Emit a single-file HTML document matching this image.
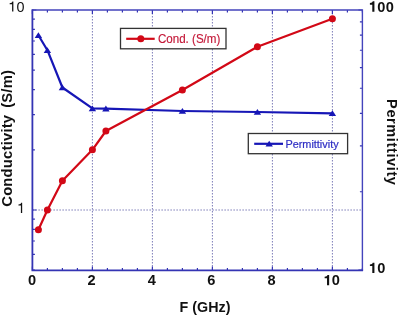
<!DOCTYPE html>
<html><head><meta charset="utf-8"><style>
html,body{margin:0;padding:0;background:#fff;}
svg{display:block;font-family:"Liberation Sans",sans-serif;will-change:transform;filter:blur(0.35px);}
</style></head><body>
<svg width="400" height="317" viewBox="0 0 400 317">
<rect width="400" height="317" fill="#fff"/>
<line x1="92.4" y1="10" x2="92.4" y2="270.4" stroke="#7c7cb8" stroke-width="1" stroke-dasharray="1.5 1.5"/>
<line x1="152.4" y1="10" x2="152.4" y2="270.4" stroke="#7c7cb8" stroke-width="1" stroke-dasharray="1.5 1.5"/>
<line x1="212.4" y1="10" x2="212.4" y2="270.4" stroke="#7c7cb8" stroke-width="1" stroke-dasharray="1.5 1.5"/>
<line x1="272.4" y1="10" x2="272.4" y2="270.4" stroke="#7c7cb8" stroke-width="1" stroke-dasharray="1.5 1.5"/>
<line x1="332.4" y1="10" x2="332.4" y2="270.4" stroke="#7c7cb8" stroke-width="1" stroke-dasharray="1.5 1.5"/>
<line x1="32.4" y1="210" x2="362.4" y2="210" stroke="#7c7cb8" stroke-width="1" stroke-dasharray="1.5 1.5"/>
<path d="M32.4 270.4v-4M32.4 10v4M47.4 270.4v-2.5M47.4 10v2.5M62.4 270.4v-2.5M62.4 10v2.5M77.4 270.4v-2.5M77.4 10v2.5M92.4 270.4v-4M92.4 10v4M107.4 270.4v-2.5M107.4 10v2.5M122.4 270.4v-2.5M122.4 10v2.5M137.4 270.4v-2.5M137.4 10v2.5M152.4 270.4v-4M152.4 10v4M167.4 270.4v-2.5M167.4 10v2.5M182.4 270.4v-2.5M182.4 10v2.5M197.4 270.4v-2.5M197.4 10v2.5M212.4 270.4v-4M212.4 10v4M227.4 270.4v-2.5M227.4 10v2.5M242.4 270.4v-2.5M242.4 10v2.5M257.4 270.4v-2.5M257.4 10v2.5M272.4 270.4v-4M272.4 10v4M287.4 270.4v-2.5M287.4 10v2.5M302.4 270.4v-2.5M302.4 10v2.5M317.4 270.4v-2.5M317.4 10v2.5M332.4 270.4v-4M332.4 10v4M347.4 270.4v-2.5M347.4 10v2.5M362.4 270.4v-2.5M362.4 10v2.5M32.4 270.20599913279625h2.5M32.4 254.36974992327129h2.5M32.4 240.98039199714864h2.5M32.4 229.38200260161128h2.5M32.4 219.15149811213502h2.5M32.4 210.0h4M32.4 149.79400086720375h2.5M32.4 114.57574905606751h2.5M32.4 89.58800173440753h2.5M32.4 70.20599913279622h2.5M32.4 54.369749923271286h2.5M32.4 40.980391997148644h2.5M32.4 29.382002601611305h2.5M32.4 19.151498112135016h2.5M32.4 10.0h4M362.4 270.0h-4M362.4 191.73220112736487h-2.5M362.4 145.94847377288778h-2.5M362.4 113.46440225472975h-2.5M362.4 88.26779887263513h-2.5M362.4 67.68067490025265h-2.5M362.4 50.2745095962932h-2.5M362.4 35.19660338209468h-2.5M362.4 21.89694754577556h-2.5M362.4 10.0h-4" stroke="#3434b4" stroke-width="1.2" fill="none"/>
<path d="M32.4 10H362.4V270.4" fill="none" stroke="#4444bc" stroke-width="1.4"/>
<path d="M32.4 9.3V270.4H363.09999999999997" fill="none" stroke="#3434b4" stroke-width="1.8"/>
<polyline points="38.4,35.2 47.4,50.2 62.4,87.5 92.4,108.4 105.9,108.6 182.4,111.0 257.4,112.0 332.4,113.3" fill="none" stroke="#1616b6" stroke-width="2.2" stroke-linejoin="round"/>
<path d="M38.4 32.2 L42.1 38.0 L34.699999999999996 38.0Z" fill="#1616b6"/>
<path d="M47.4 47.2 L51.1 53.0 L43.699999999999996 53.0Z" fill="#1616b6"/>
<path d="M62.4 84.5 L66.1 90.3 L58.699999999999996 90.3Z" fill="#1616b6"/>
<path d="M92.4 105.4 L96.10000000000001 111.2 L88.7 111.2Z" fill="#1616b6"/>
<path d="M105.9 105.6 L109.60000000000001 111.39999999999999 L102.2 111.39999999999999Z" fill="#1616b6"/>
<path d="M182.4 108.0 L186.1 113.8 L178.70000000000002 113.8Z" fill="#1616b6"/>
<path d="M257.4 109.0 L261.09999999999997 114.8 L253.7 114.8Z" fill="#1616b6"/>
<path d="M332.4 110.3 L336.09999999999997 116.1 L328.7 116.1Z" fill="#1616b6"/>
<polyline points="38.4,229.7 47.4,210 62.4,180.7 92.4,149.8 105.9,131 182.4,90 257.4,46.8 332.4,18.8" fill="none" stroke="#d20816" stroke-width="2.2" stroke-linejoin="round"/>
<circle cx="38.4" cy="229.7" r="3.5" fill="#d20816"/>
<circle cx="47.4" cy="210" r="3.5" fill="#d20816"/>
<circle cx="62.4" cy="180.7" r="3.5" fill="#d20816"/>
<circle cx="92.4" cy="149.8" r="3.5" fill="#d20816"/>
<circle cx="105.9" cy="131" r="3.5" fill="#d20816"/>
<circle cx="182.4" cy="90" r="3.5" fill="#d20816"/>
<circle cx="257.4" cy="46.8" r="3.5" fill="#d20816"/>
<circle cx="332.4" cy="18.8" r="3.5" fill="#d20816"/>
<rect x="120.5" y="28.4" width="105.5" height="20.4" fill="#fff" stroke="#333" stroke-width="1.3"/>
<line x1="126.2" y1="38.8" x2="154.7" y2="38.8" stroke="#d20816" stroke-width="2.2"/>
<circle cx="140.8" cy="38.8" r="3.5" fill="#d20816"/>
<text transform="translate(157.9,42.6) scale(1,1.06)" font-size="11.6" fill="#c41838" stroke="#c41838" stroke-width="0.15">Cond. (S/m)</text>
<rect x="248.3" y="133.5" width="99.3" height="20.2" fill="#fff" stroke="#333" stroke-width="1.3"/>
<line x1="254.2" y1="143.8" x2="283" y2="143.8" stroke="#1616b6" stroke-width="2.2"/>
<path d="M269.2 140.8 L272.9 146.60000000000002 L265.5 146.60000000000002Z" fill="#1616b6"/>
<text transform="translate(285.4,147.7) scale(1,1.08)" font-size="10.9" fill="#2e2ec4" stroke="#2e2ec4" stroke-width="0.2">Permittivity</text>
<g fill="#111"><path d="M13.37 11.50L13.37 1.38L12.33 1.38C12.09 2.28 11.43 3.05 9.65 3.15L9.65 4.13L12.10 4.13L12.10 11.50Z"/><text x="16.51" y="11.5" font-size="14.4" font-weight="normal">0</text><path d="M22.17 212.90L22.17 202.78L21.13 202.78C20.89 203.68 20.23 204.45 18.45 204.55L18.45 205.53L20.90 205.53L20.90 212.90Z"/><path d="M374.42 11.70L374.42 1.33L372.73 1.33C372.46 2.36 371.70 3.03 369.91 3.09L369.91 4.66L372.29 4.66L372.29 11.70Z"/><text x="377.32" y="11.7" font-size="14.6" font-weight="bold">0</text><text x="385.74" y="11.7" font-size="14.6" font-weight="bold">0</text><path d="M374.42 273.00L374.42 262.63L372.73 262.63C372.46 263.66 371.70 264.33 369.91 264.39L369.91 265.96L372.29 265.96L372.29 273.00Z"/><text x="377.22" y="273.0" font-size="14.6" font-weight="bold">0</text><text x="28.04" y="285.3" font-size="14.6" font-weight="bold">0</text><text x="87.59" y="285.3" font-size="14.6" font-weight="bold">2</text><text x="147.84" y="285.3" font-size="14.6" font-weight="bold">4</text><text x="207.24" y="285.3" font-size="14.6" font-weight="bold">6</text><text x="267.54" y="285.3" font-size="14.6" font-weight="bold">8</text><path d="M329.15 285.30L329.15 274.93L327.46 274.93C327.19 275.96 326.44 276.63 324.64 276.69L324.64 278.26L327.02 278.26L327.02 285.30Z"/><text x="331.75" y="285.3" font-size="14.6" font-weight="bold">0</text></g>
<text x="205" y="311.6" text-anchor="middle" font-size="14.3" font-weight="bold" fill="#111">F (GHz)</text>
<text transform="translate(11.9,138.3) rotate(-90)" text-anchor="middle" font-size="14.8" font-weight="bold" fill="#111" letter-spacing="0.2" word-spacing="2.6">Conductivity (S/m)</text>
<text transform="translate(386.6,142.3) rotate(90)" text-anchor="middle" font-size="14.5" font-weight="bold" fill="#111" letter-spacing="0.62">Permittivity</text>
</svg>
</body></html>
